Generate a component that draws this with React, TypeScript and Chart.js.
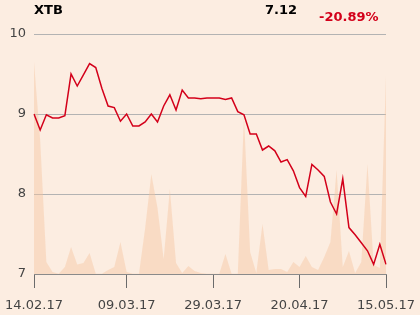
import React, { useEffect, useRef } from "react";
import { Chart, registerables } from "chart.js";

Chart.register(...registerables);

const dates: string[] = [
  "14.02.17","15.02.17","16.02.17","17.02.17","20.02.17","21.02.17","22.02.17","23.02.17","24.02.17","27.02.17",
  "28.02.17","01.03.17","02.03.17","03.03.17","06.03.17","09.03.17","10.03.17","13.03.17","14.03.17","15.03.17",
  "16.03.17","17.03.17","20.03.17","21.03.17","22.03.17","23.03.17","24.03.17","27.03.17","28.03.17","29.03.17",
  "30.03.17","31.03.17","03.04.17","04.04.17","05.04.17","06.04.17","07.04.17","10.04.17","11.04.17","12.04.17",
  "13.04.17","14.04.17","18.04.17","20.04.17","21.04.17","24.04.17","25.04.17","26.04.17","27.04.17","28.04.17",
  "02.05.17","04.05.17","05.05.17","08.05.17","09.05.17","10.05.17","11.05.17","15.05.17",
];

const shownTickIndexes: number[] = [0, 15, 29, 43, 57];

const price: number[] = [
  9.0, 8.8, 8.99, 8.95, 8.95, 8.98, 9.5, 9.35, 9.49, 9.63,
  9.58, 9.32, 9.1, 9.08, 8.91, 9.0, 8.85, 8.85, 8.9, 9.0,
  8.9, 9.1, 9.24, 9.05, 9.3, 9.2, 9.2, 9.19, 9.2, 9.2,
  9.2, 9.18, 9.2, 9.03, 8.99, 8.75, 8.75, 8.55, 8.6, 8.54,
  8.4, 8.43, 8.29, 8.08, 7.97, 8.37, 8.3, 8.22, 7.9, 7.75,
  8.19, 7.58, 7.49, 7.39, 7.29, 7.12, 7.37, 7.12,
];

const volume: number[] = [
  212, 134, 12, 2, 0.3, 7, 27, 9.5, 11, 21,
  0.3, 0.3, 4, 7, 32, 2, 0.3, 0.3, 46, 100,
  66, 15, 85, 11, 1, 8, 3, 1, 0.3, 0.3,
  0.3, 20, 0.3, 0.3, 157, 22, 1, 50, 4, 5,
  5, 2, 12, 7, 18, 7, 4, 17, 32, 104,
  7, 23, 1, 12, 110, 9, 6, 198,
];

const yTicks: number[] = [7, 8, 9, 10];

const titleText = "XTB";
const lastText = "7.12";
const changeText = "-20.89%";

const BG = "#fcede1";
const FONT = "'DejaVu Sans', sans-serif";

export default function App() {
  const ref = useRef<HTMLCanvasElement | null>(null);

  useEffect(() => {
    document.body.style.margin = "0";
    document.body.style.background = BG;
    const canvas = ref.current;
    if (!canvas) return;

    const headerPlugin = {
      id: "header",
      beforeDraw(chart: any) {
        const ctx = chart.ctx;
        ctx.save();
        ctx.fillStyle = BG;
        ctx.fillRect(0, 0, chart.width, chart.height);
        ctx.restore();
      },
      afterDraw(chart: any) {
        const ctx = chart.ctx;
        ctx.save();
        ctx.font = `bold 13px ${FONT}`;
        ctx.textBaseline = "alphabetic";
        ctx.fillStyle = "#000";
        ctx.textAlign = "left";
        ctx.fillText(titleText, 34, 14);
        ctx.textAlign = "right";
        ctx.fillText(lastText, 297, 14);
        ctx.fillStyle = "#d3001a";
        ctx.textAlign = "left";
        ctx.fillText(changeText, 319, 21);
        ctx.restore();
      },
    };

    const chart = new Chart(canvas, {
      type: "line",
      data: {
        labels: dates,
        datasets: [
          {
            label: "price",
            data: price,
            borderColor: "#d3001a",
            borderWidth: 1.5,
            pointRadius: 0,
            tension: 0,
            fill: false,
            yAxisID: "y",
            order: 0,
          },
          {
            label: "volume",
            data: volume,
            borderWidth: 0,
            borderColor: "rgba(0,0,0,0)",
            backgroundColor: "rgba(245,195,158,0.42)",
            pointRadius: 0,
            tension: 0,
            fill: "origin",
            yAxisID: "vol",
            order: 1,
          },
        ],
      },
      options: {
        responsive: false,
        animation: false,
        events: [],
        layout: { padding: { top: 34, right: 34, left: 0, bottom: 0 } },
        plugins: {
          legend: { display: false },
          tooltip: { enabled: false },
          title: { display: false },
        },
        scales: {
          x: {
            type: "category",
            offset: false,
            grid: {
              drawOnChartArea: false,
              drawTicks: true,
              tickLength: 14,
              color: "#6b6b6b",
              offset: false,
            },
            border: { display: true, color: "#8a8a8a" },
            ticks: {
              autoSkip: false,
              maxRotation: 0,
              minRotation: 0,
              padding: 10,
              color: "#444",
              font: { family: FONT, size: 13 },
            },
            afterBuildTicks(scale: any) {
              scale.ticks = scale.ticks.filter((t: any) => shownTickIndexes.includes(t.value));
            },
            afterFit(scale: any) {
              scale.height = 41;
              scale.paddingLeft = 0;
              scale.paddingRight = 0;
            },
          },
          y: {
            position: "left",
            min: 7,
            max: 10,
            grid: { color: "#b3b3b3", drawTicks: false, lineWidth: 1 },
            border: { display: false },
            ticks: {
              stepSize: 1,
              padding: 8,
              color: "#444",
              font: { family: FONT, size: 13 },
            },
            afterBuildTicks(scale: any) {
              scale.ticks = yTicks.map((v) => ({ value: v }));
            },
            afterFit(scale: any) {
              scale.width = 34;
              scale.paddingTop = 0;
              scale.paddingBottom = 0;
            },
          },
          vol: {
            display: false,
            min: 0,
            max: 240,
          },
        },
      },
      plugins: [headerPlugin],
    } as any);

    return () => chart.destroy();
  }, []);

  return (
    <div style={{ width: 420, height: 315, background: BG }}>
      <canvas ref={ref} width={420} height={315} style={{ display: "block" }} />
    </div>
  );
}
